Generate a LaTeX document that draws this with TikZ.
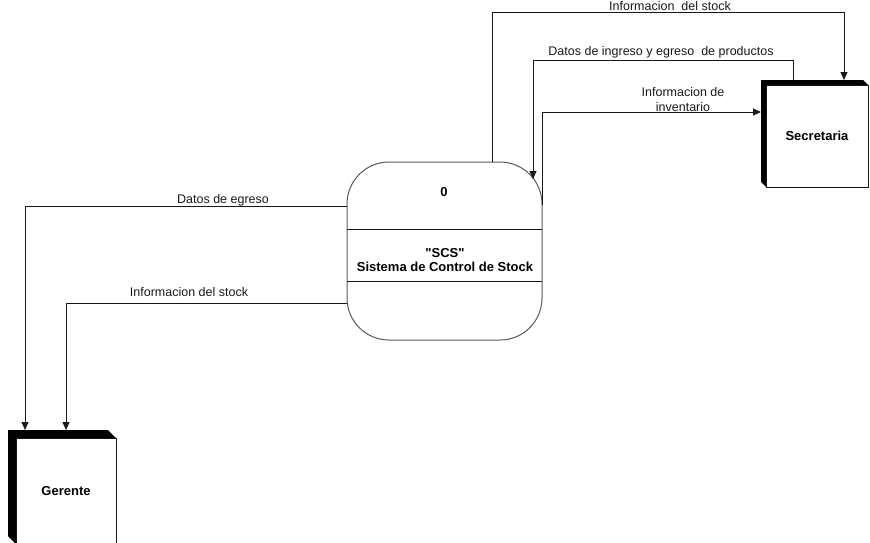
\documentclass[tikz,border=0pt]{standalone}
\usepackage{fontspec}
\setmainfont{Liberation Sans}
\usetikzlibrary{arrows.meta}
\begin{document}
\begin{tikzpicture}[x=1pt,y=-1pt,
  line/.style={draw=black!90, line width=0.8pt},
  flow/.style={line, -{Triangle[length=8pt,width=7pt]}},
  lbl/.style={font=\fontsize{12.5}{15}\selectfont, inner sep=0pt, text=black!90},
  boldtxt/.style={font=\fontsize{13}{14}\selectfont\bfseries, inner sep=0pt, align=center},
  entbox/.style={line, fill=white, inner sep=0pt, outer sep=0pt,
                 font=\fontsize{13}{14}\selectfont\bfseries}
]
\useasboundingbox (0,0) rectangle (870,542);
\clip (0,0) rectangle (870,542);

% process bubble
\node[draw=black!65, line width=1pt, rounded corners=42pt, minimum width=195pt,
      minimum height=178pt, inner sep=0pt, outer sep=0pt] (proc) at (444.5,251) {};
\coordinate (h1) at (0,229);
\coordinate (h2) at (0,281);
\draw[line] (proc.west |- h1) -- (proc.east |- h1);
\draw[line] (proc.west |- h2) -- (proc.east |- h2);
\node[boldtxt] (pnum) at (444,192) {0};
\node[boldtxt] (pname) at (445,260) {\textquotedbl SCS\textquotedbl\\Sistema de Control de Stock};

% external entities
\node[entbox, minimum width=102pt, minimum height=102pt] (sec) at (817,136) {Secretaria};
\fill[black] ([shift={(-5,-5)}]sec.north west) -- ([shift={(-5,-5)}]sec.north east)
  -- (sec.north east) -- (sec.north west) -- (sec.south west)
  -- ([shift={(-5,-5)}]sec.south west) -- cycle;
\coordinate (secT) at ([shift={(0,-5)}]sec.north);
\coordinate (secL) at ([shift={(-5,0)}]sec.west);

\node[entbox, minimum width=100pt, minimum height=106pt] (ger) at (66,491) {Gerente};
\fill[black] ([shift={(-8,-8)}]ger.north west) -- ([shift={(-8,-8)}]ger.north east)
  -- (ger.north east) -- (ger.north west) -- (ger.south west)
  -- ([shift={(-8,-8)}]ger.south west) -- cycle;
\coordinate (gerT) at ([shift={(0,-8)}]ger.north);

% flows to Secretaria
\coordinate (a1) at (492,12);
\coordinate (a2) at (844,12);
\draw[flow] (a1 |- proc.north) -- (a1) -- (a2) -- (a2 |- secT);
\node[lbl, anchor=base] (la) at (670,10) {Informacion\ \ del stock};

\coordinate (b1) at (793,60);
\coordinate (b2) at (533,60);
\coordinate (b3) at (533,179);
\draw[flow] (b1 |- secT) -- (b1) -- (b2) -- (b3);
\node[lbl, anchor=base] (lb) at (661,55) {Datos de ingreso y egreso\ \ de productos};

\coordinate (c0) at (0,205);
\coordinate (c1) at (0,112);
\draw[flow] (proc.east |- c0) -- (proc.east |- c1) -- (secL |- c1);
\node[lbl, anchor=north, align=center] (lc) at (683,87.5) {Informacion de\\inventario};

% flows to Gerente
\coordinate (d0) at (0,206);
\coordinate (d1) at (25,206);
\draw[flow] (proc.west |- d0) -- (d1) -- (d1 |- gerT);
\node[lbl, anchor=base] (ld) at (223,203) {Datos de egreso};

\coordinate (e0) at (0,303);
\coordinate (e1) at (66,303);
\draw[flow] (proc.west |- e0) -- (e1) -- (e1 |- gerT);
\node[lbl, anchor=base] (le) at (189,296) {Informacion del stock};
\end{tikzpicture}
\end{document}
